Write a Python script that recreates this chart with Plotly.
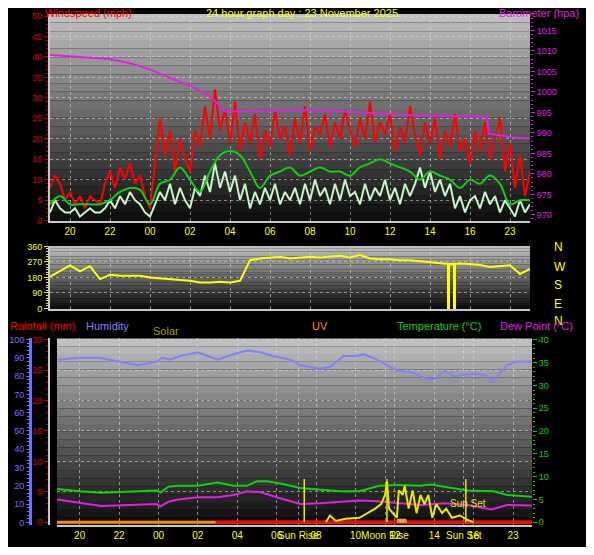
import plotly.graph_objects as go

# hour offset 0 = 19:00 on the previous day
tick_h = [1, 3, 5, 7, 9, 11, 13, 15, 17, 19, 21, 23]
tick_txt = ['20', '22', '00', '02', '04', '06', '08', '10', '12', '14', '16', '23']

# wind, 15 min steps
gust = [8, 11, 9,
        5, 7, 4, 6, 3, 6, 5, 4,
        9, 12, 8, 13, 10, 14, 9, 11, 6,
        3,
        14, 25, 16, 22, 12, 20, 15,
        12, 22, 18, 28, 20, 32, 22, 27, 19, 29,
        17, 24, 19, 26, 15, 22, 18, 27, 20, 23, 16,
        25, 19, 28, 17, 23, 21, 26, 18, 24, 20, 27, 22,
        18, 25, 20, 29, 19, 24, 21, 26, 17, 23, 19, 28,
        21, 16, 24, 19, 25, 15, 22, 18, 26, 17, 20, 14,
        22, 17, 24, 15, 20, 25, 12, 19, 8, 16, 6, 12]
wind = [2, 5, 3,
        2, 2, 3, 1, 2, 3, 2, 2,
        3, 5, 3, 6, 4, 7, 5, 4, 2,
        1,
        4, 7, 5, 9, 4, 8, 5,
        3, 8, 6, 11, 7, 14, 8, 12, 7, 11,
        5, 9, 3, 7, 4, 8, 5, 9, 4, 7, 5,
        8, 4, 9, 5, 10, 6, 8, 4, 9, 5, 10, 6,
        7, 4, 9, 5, 8, 6, 10, 5, 8, 4, 9, 6,
        9, 13, 8, 12, 7, 10, 6, 9, 3, 6, 2, 5,
        6, 3, 7, 4, 6, 2, 5, 3, 1, 5, 2, 4]
# average wind, 30 min steps
avg_wind = [4, 6, 4, 4, 4, 4, 5, 7, 8, 7.5, 4, 9, 10, 13, 10, 7, 12, 16, 17, 16,
            12, 8, 11, 12, 13, 11, 12, 13, 12, 12, 11, 13, 14, 15, 14, 13, 12, 10, 12, 11,
            10, 8, 10, 9, 11, 9, 4, 5, 5]

baro_h = [0, 1, 2, 3, 4, 5, 6, 7, 8, 8.75, 9.5, 11, 12, 13, 14, 15, 16, 17, 18, 19, 20, 21, 21.85, 21.95, 22.5, 23, 24]
baro_v = [1009, 1008.7, 1008.3, 1008, 1007, 1005.5, 1003.4, 1001.5, 999, 995.2, 995.3, 995.5, 995.5, 995.6, 995.4, 995.1,
          994.8, 994.5, 994.3, 994.2, 994.1, 994, 993.9, 989.8, 989.3, 989, 988.6]

# wind direction, 30 min steps plus the two dips
dir_v = [185, 220, 250, 215, 245, 170, 195, 190, 188, 190, 180, 175, 170, 165, 160, 150, 150, 155, 150, 160,
         280, 290, 295, 300, 290, 295, 300, 295, 300, 305, 295, 310, 290, 285, 285, 280, 280, 275, 270, 262,
         255, 260, 258, 252, 240, 245, 250, 200, 230]
dip_h = [19.9, 19.9, 19.95, 19.95, 20.2, 20.2, 20.25, 20.25]
dip_v = [258, 0, 0, 258, 258, 0, 0, 258]

hum_h = [-0.15, 1, 2, 2.5, 3.7, 4, 4.9, 5.2, 5.6, 6.1, 7, 8, 8.8, 9.5, 10.2, 10.8, 11.7, 12.2, 13.2, 13.7, 14.4,
         15.1, 15.4, 16.1, 16.6, 17.1, 17.9, 18.3, 18.8, 19.1, 19.5, 20, 20.7, 21.3, 21.7, 21.9, 22.2, 22.7, 23.2, 23.95]
hum_v = [89, 90, 90, 89, 87, 86, 88, 90, 89, 91, 93, 89, 92, 94, 93, 91, 89, 86, 84, 85, 91,
         91, 92, 89, 86, 83, 82, 80, 78, 79, 83, 80, 81, 81, 80, 77, 80, 86, 88, 88]

temp_h = [-0.15, 1, 2.1, 4.9, 5.1, 5.5, 6, 7, 8, 8.8, 9.5, 10, 10.5, 11.2, 12.2, 14.2, 15.2, 16.2, 17.2, 18.3, 18.8, 20.7, 22, 22.7, 23.95]
temp_v = [7.3, 6.8, 6.5, 7.0, 6.5, 7.8, 8, 8, 8.7, 8, 8, 9, 9, 8.5, 7.5, 6.8, 6.8, 8, 8.2, 8, 8.3, 7, 6.8, 6, 5.6]
dew_h = [-0.15, 1, 2.1, 3.5, 4.9, 5.1, 5.5, 6, 7, 8, 8.8, 9.5, 10.2, 11, 12.2, 13.2, 15.2, 16.1, 17.2, 18.3, 19.5, 20.7, 21.9, 22.7, 23.95]
dew_v = [5.0, 4.3, 3.6, 3.8, 4.0, 3.5, 4.5, 5, 5.5, 5.5, 6, 6.8, 6.6, 5.5, 4.0, 4.2, 4.8, 4.6, 4.2, 3.8, 4.2, 3.8, 2.8, 3.8, 3.7]

solar_h = [13.5, 13.7, 14, 14.5, 15.2, 15.6, 16, 16.3, 16.5, 16.6, 16.7, 17.1, 17.2, 17.4, 17.5, 17.7, 17.9, 18.1,
           18.3, 18.5, 18.7, 18.9, 19.1, 19.4, 19.6, 19.9, 20.3, 20.7, 21]
solar_v = [0, 1.5, 0.3, 0.8, 1, 2, 3, 4, 6, 9, 3, 1, 7, 6, 8, 3, 7, 2, 6, 4, 6, 1, 4, 2, 3, 1, 1.5, 0.5, 0]

rain_h = [-0.15, 23.95]
rain_v = [0, 0]
uv_h = [17.2, 17.35, 17.5]
uv_v = [0.7, 0.7, 0.7]

sun_rise, moon_rise, sun_set = 12.4, 16.6, 20.6
bot_tick_h = [1, 3, 5, 7, 9, 11, 12.1, 13, 15, 16.5, 17, 19, 20.5, 21, 23]
bot_tick_txt = ['20', '22', '00', '02', '04', '06', 'Sun Rise', '08', '10', 'Moon Rise', '12', '14', 'Sun Set', '16', '23']

# the page body adds an 8px margin, so the figure is drawn a little smaller
OFF = 8
W, H = 594 - 2 * OFF, 555 - 2 * OFF
def px(x): return (x - OFF) / W
def py(y): return 1 - (y - OFF) / H

fig = go.Figure()
hq = [i * 0.25 for i in range(97)]
hh = [i * 0.5 for i in range(49)]

fig.add_trace(go.Scatter(x=hq, y=gust, mode='lines', line=dict(color='#ff0000', width=2), xaxis='x', yaxis='y'))
fig.add_trace(go.Scatter(x=hq, y=wind, mode='lines', line=dict(color='#c8f5c8', width=2), xaxis='x', yaxis='y'))
fig.add_trace(go.Scatter(x=hh, y=avg_wind, mode='lines', line=dict(color='#10d010', width=2, shape='spline'), xaxis='x', yaxis='y'))
fig.add_trace(go.Scatter(x=baro_h, y=baro_v, mode='lines', line=dict(color='#e020e0', width=2), xaxis='x', yaxis='y2'))

dir_h = hh[:40] + dip_h + hh[40:]
dir_all = dir_v[:40] + dip_v + dir_v[40:]
fig.add_trace(go.Scatter(x=dir_h, y=dir_all, mode='lines', line=dict(color='#ffff00', width=2), xaxis='x2', yaxis='y3'))

fig.add_trace(go.Scatter(x=hum_h, y=hum_v, mode='lines', line=dict(color='#8080ff', width=2), xaxis='x3', yaxis='y5'))
fig.add_trace(go.Scatter(x=temp_h, y=temp_v, mode='lines', line=dict(color='#10d010', width=2), xaxis='x3', yaxis='y6'))
fig.add_trace(go.Scatter(x=dew_h, y=dew_v, mode='lines', line=dict(color='#e020e0', width=2), xaxis='x3', yaxis='y6'))
fig.add_trace(go.Scatter(x=solar_h, y=solar_v, mode='lines', line=dict(color='#e8e800', width=2), xaxis='x3', yaxis='y6'))
fig.add_trace(go.Scatter(x=rain_h, y=rain_v, mode='lines', line=dict(color='#ff8c00', width=3), xaxis='x3', yaxis='y4'))
fig.add_trace(go.Scatter(x=[7.9, 23.95], y=[0, 0], mode='lines', line=dict(color='#ff0000', width=3), xaxis='x3', yaxis='y4'))
fig.add_trace(go.Bar(x=uv_h, y=uv_v, width=0.15, marker_color='#ff8c00', xaxis='x3', yaxis='y6'))

# gray gradient backgrounds
panels = [(10, 221, 50, 530), (246, 310, 50, 530), (340, 530, 57, 532)]
shapes = []
n = 24
for top, bot, left, right in panels:
    for i in range(n):
        g = int(190 - 175 * i / (n - 1))
        shapes.append(dict(type='rect', xref='paper', yref='paper', layer='below', line_width=0,
                           x0=px(left), x1=px(right),
                           y0=py(top + (bot - top) * (i + 1) / n), y1=py(top + (bot - top) * i / n),
                           fillcolor=f'rgb({g},{g},{g})'))
for h in [sun_rise, moon_rise, sun_set]:
    shapes.append(dict(type='line', xref='x3', yref='y6', x0=h, x1=h, y0=0, y1=9.5,
                       line=dict(color='#e8e800', width=1.5)))

grid = dict(showgrid=True, gridcolor='rgba(220,220,220,0.55)', griddash='dot', gridwidth=1)
tfont = dict(family='Liberation Sans', size=9)
xcommon = dict(range=[0, 24], tickmode='array', tickvals=tick_h, ticktext=tick_txt, zeroline=False,
               tickfont=dict(family='Liberation Sans', size=10, color='#ffff00'), **grid)

fig.update_layout(
    width=W, height=H, margin=dict(l=0, r=0, t=0, b=0),
    paper_bgcolor='black', plot_bgcolor='rgba(0,0,0,0)', showlegend=False, shapes=shapes,
    xaxis=dict(domain=[px(50), px(530)], anchor='y', showline=True, linecolor='#c8c8c8', linewidth=2, **xcommon),
    yaxis=dict(domain=[py(221), py(10)], range=[-0.2, 50.5], dtick=5, zeroline=False, showline=True,
               linecolor='#c8c8c8', linewidth=2, ticks='outside', tickcolor='#c00000', ticklen=4,
               minor=dict(ticks='outside', dtick=1, ticklen=2, tickcolor='#c00000'),
               tickfont=dict(color='#e00000', **tfont), **grid),
    yaxis2=dict(overlaying='y', side='right', anchor='x', range=[968.4, 1019], tickvals=list(range(970, 1016, 5)),
                ticks='outside', tickcolor='#e020e0', ticklen=4, showgrid=False, zeroline=False,
                minor=dict(ticks='outside', dtick=1, ticklen=2, tickcolor='#e020e0'),
                tickfont=dict(color='#e020e0', **tfont)),
    xaxis2=dict(domain=[px(50), px(530)], anchor='y3', showticklabels=False, showline=True,
                linecolor='#c8c8c8', linewidth=2, **{k: v for k, v in xcommon.items() if k != 'tickfont'}),
    yaxis3=dict(domain=[py(310), py(246)], range=[-3, 362], tickvals=[0, 90, 180, 270, 360], zeroline=False,
                showline=True, linecolor='#c8c8c8', linewidth=2, ticks='outside', tickcolor='#e8e800', ticklen=4,
                minor=dict(ticks='outside', dtick=15, ticklen=2, tickcolor='#e8e800'),
                tickfont=dict(color='#ffff00', **tfont), **grid),
    xaxis3=dict(domain=[px(57), px(532)], anchor='y4', range=[-0.15, 23.96], tickmode='array',
                tickvals=bot_tick_h, ticktext=bot_tick_txt, zeroline=False, showline=True, tickangle=0,
                linecolor='#c8c8c8', linewidth=2, tickfont=dict(family='Liberation Sans', size=10, color='#ffff00'),
                **grid),
    yaxis4=dict(domain=[py(530), py(340)], range=[-0.5, 30.2], dtick=5, zeroline=False, showline=True,
                linecolor='#c8c8c8', linewidth=2, ticks='outside', tickcolor='#c00000', ticklen=4,
                minor=dict(ticks='outside', dtick=1, ticklen=2, tickcolor='#c00000'),
                tickfont=dict(color='#e00000', **tfont), **grid),
    yaxis5=dict(overlaying='y4', side='left', anchor='free', position=px(30), range=[-1.6, 100.6], dtick=10,
                showgrid=False, zeroline=False, showline=True, linecolor='#7070ff', linewidth=3,
                ticks='outside', tickcolor='#7070ff', ticklen=3,
                minor=dict(ticks='outside', dtick=2, ticklen=2, tickcolor='#7070ff'),
                tickfont=dict(color='#7070ff', **tfont)),
    yaxis6=dict(overlaying='y4', side='right', anchor='x3', range=[-0.65, 40.3], dtick=5, showgrid=False,
                zeroline=False, ticks='outside', tickcolor='#10d010', ticklen=4,
                minor=dict(ticks='outside', dtick=1, ticklen=2, tickcolor='#10d010'),
                tickfont=dict(color='#10d010', **tfont)),
)

def label(txt, x, y, color, anchor='left', size=12):
    fig.add_annotation(text=txt, x=px(x), y=py(y), xref='paper', yref='paper', showarrow=False,
                       xanchor=anchor, yanchor='middle', font=dict(family='Liberation Sans', size=size, color=color))

label('Windspeed (mph)', 43, 9, '#ff0000', size=11)
label('24 hour graph day : 23 November 2025', 302, 9, '#ffff00', 'center', size=11)
label('Barometer (hpa)', 497, 9, '#e020e0', size=11)
for t, y in zip(['N', 'W', 'S', 'E', 'N'], [247, 267, 286, 305, 322]):
    label(t, 552, y, '#ffff00')
label('Rainfall (mm)', 8, 327, '#ff0000', size=11)
label('Humidity', 84, 327, '#8080ff', size=11)
label('Solar', 151, 332, '#a0a000', size=11)
label('UV', 310, 327, '#ff8c00', size=11)
label('Temperature (°C)', 395, 327, '#10d010', size=11)
label('Dew Point (°C)', 498, 327, '#e020e0', size=11)
label('Sun Set', 448, 508, '#e8e800', size=10)

fig.write_html("out.html")
